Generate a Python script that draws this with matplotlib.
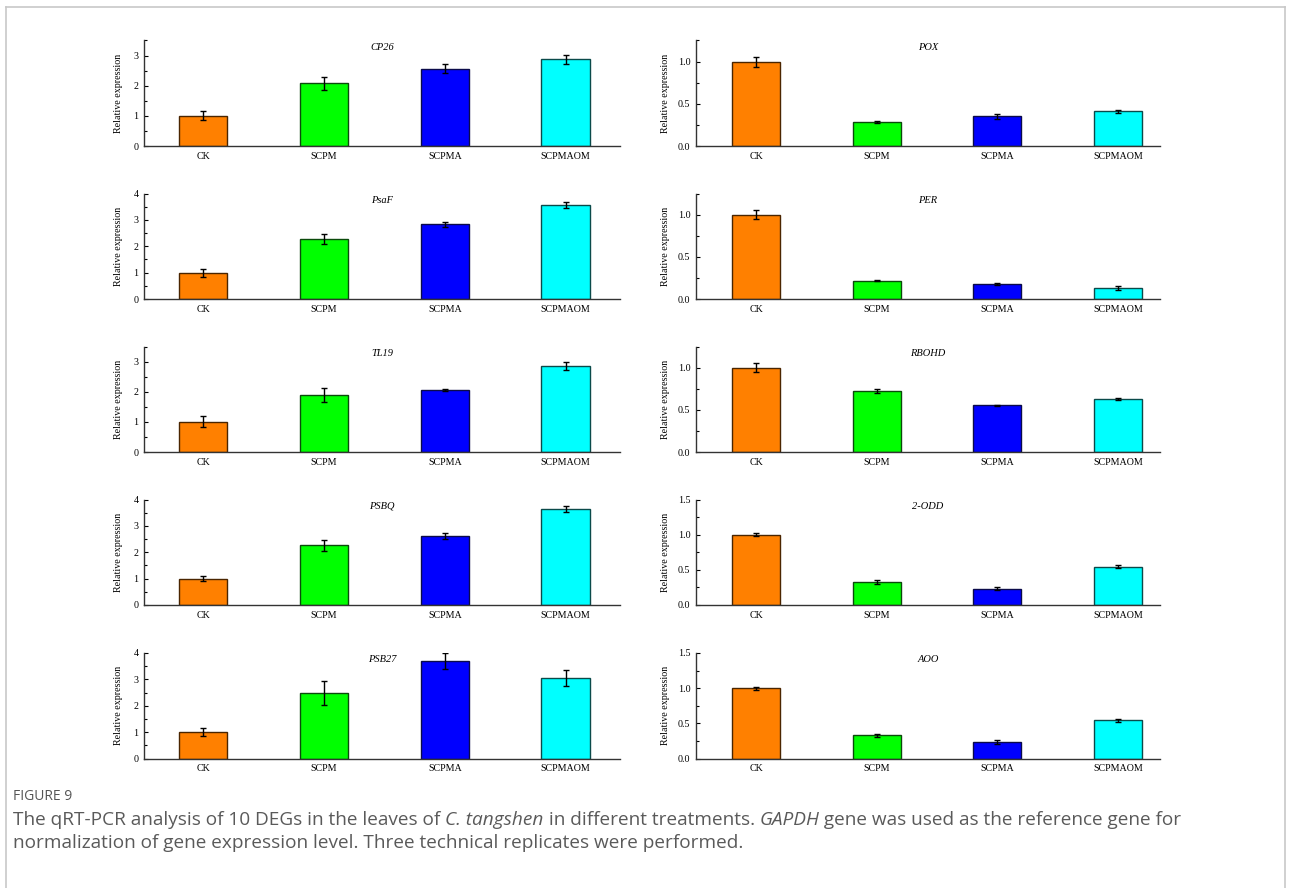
import matplotlib
matplotlib.use('Agg')
import matplotlib.pyplot as plt
from matplotlib.lines import Line2D
from matplotlib.ticker import MultipleLocator, FormatStrFormatter

# ── Data ──────────────────────────────────────────────────────────────────────
treatments = ['CK', 'SCPM', 'SCPMA', 'SCPMAOM']
colors     = ['#FF8000', '#00FF00', '#0000FF', '#00FFFF']
edges      = ['#4a2500', '#0b4a0b', '#0b0b4a', '#0b4a4a']

left_genes = ['CP26', 'PsaF', 'TL19', 'PSBQ', 'PSB27']
left_means = [[1.00, 2.08, 2.57, 2.87],
              [1.00, 2.29, 2.83, 3.57],
              [1.00, 1.89, 2.07, 2.85],
              [1.00, 2.27, 2.61, 3.63],
              [1.00, 2.48, 3.70, 3.05]]
left_errs  = [[0.15, 0.21, 0.15, 0.15],
              [0.15, 0.19, 0.10, 0.12],
              [0.18, 0.24, 0.03, 0.12],
              [0.09, 0.21, 0.12, 0.12],
              [0.16, 0.44, 0.31, 0.30]]
left_ymax  = [3.5, 4, 3.5, 4, 4]

right_genes = ['POX', 'PER', 'RBOHD', '2-ODD', 'AOO']
right_means = [[1.00, 0.285, 0.350, 0.410],
               [1.00, 0.218, 0.179, 0.131],
               [1.00, 0.722, 0.552, 0.627],
               [1.00, 0.330, 0.233, 0.543],
               [1.00, 0.330, 0.234, 0.545]]
right_errs  = [[0.06, 0.015, 0.025, 0.015],
               [0.05, 0.010, 0.010, 0.025],
               [0.05, 0.020, 0.005, 0.010],
               [0.025, 0.025, 0.025, 0.020],
               [0.02, 0.020, 0.025, 0.020]]
right_ymax  = [1.25, 1.25, 1.25, 1.5, 1.5]

caption_line1 = [('The qRT-PCR analysis of 10 DEGs in the leaves of ', 'normal'),
                 ('C. tangshen', 'italic'),
                 (' in different treatments. ', 'normal'),
                 ('GAPDH', 'italic'),
                 (' gene was used as the reference gene for', 'normal')]
caption_line2 = 'normalization of gene expression level. Three technical replicates were performed.'

# ── Layout (pixels) ───────────────────────────────────────────────────────────
W, H = 1292, 888
row_bottoms = [146, 299, 452, 605, 758.5]
AX_H = 105.5
cols = [dict(x0=144, w=476, xlim=(0.51, 4.45), labx=-0.044,
             genes=left_genes, means=left_means, errs=left_errs, ymax=left_ymax),
        dict(x0=696, w=464, xlim=(0.50, 4.35), labx=-0.056,
             genes=right_genes, means=right_means, errs=right_errs, ymax=right_ymax)]

plt.rcParams['font.family'] = 'Liberation Serif'
fig = plt.figure(figsize=(W / 100, H / 100), dpi=100)
xpos = list(range(1, len(treatments) + 1))

for col in cols:
    for r, gene in enumerate(col['genes']):
        ax = fig.add_axes([col['x0'] / W, 1 - row_bottoms[r] / H,
                           col['w'] / W, AX_H / H])
        ax.bar(xpos, col['means'][r], width=0.4, color=colors,
               edgecolor=edges, linewidth=1.0, zorder=2)
        ax.errorbar(xpos, col['means'][r], yerr=col['errs'][r], fmt='none',
                    ecolor='black', elinewidth=1.0, capsize=2.2, capthick=1.0, zorder=3)
        ymax = col['ymax'][r]
        ax.set_ylim(0, ymax)
        ax.set_xlim(*col['xlim'])
        if ymax <= 1.5:
            ax.yaxis.set_major_locator(MultipleLocator(0.5))
            ax.yaxis.set_minor_locator(MultipleLocator(0.25))
            ax.yaxis.set_major_formatter(FormatStrFormatter('%.1f'))
        else:
            ax.yaxis.set_major_locator(MultipleLocator(1))
            ax.yaxis.set_minor_locator(MultipleLocator(0.5))
        ax.set_xticks(xpos)
        ax.set_xticklabels(treatments)
        ax.tick_params(axis='x', length=0, pad=4, labelsize=7.2)
        ax.tick_params(axis='y', which='major', direction='in', length=3,
                       width=0.8, pad=4, labelsize=7.2)
        ax.tick_params(axis='y', which='minor', direction='in', length=2, width=0.8)
        for s in ('top', 'right'):
            ax.spines[s].set_visible(False)
        for s in ('left', 'bottom'):
            ax.spines[s].set_linewidth(1.0)
            ax.spines[s].set_color('#333333')
        ax.set_ylabel('Relative expression', fontsize=7.2)
        ax.yaxis.set_label_coords(col['labx'], 0.5)
        ax.text(0.5, 0.935, gene, transform=ax.transAxes, ha='center', va='center',
                fontsize=7.5, style='italic')

# ── Frame and caption ─────────────────────────────────────────────────────────
frame = dict(color='#c8c8c8', lw=1.2, transform=fig.transFigure)
fig.add_artist(Line2D([6 / W, 6 / W], [0, 1 - 7 / H], **frame))
fig.add_artist(Line2D([6 / W, 1285 / W], [1 - 7 / H, 1 - 7 / H], **frame))
fig.add_artist(Line2D([1285 / W, 1285 / W], [0, 1 - 7 / H], **frame))

CAP = dict(fontsize=13.7, color='#5a5a5a', family='Open Sans', va='center')
fig.text(13 / W, 1 - 796 / H, 'FIGURE 9', fontsize=10, color='#555555',
         family='Open Sans', va='center')

renderer = fig.canvas.get_renderer()
x = 13
for seg, style in caption_line1:
    t = fig.text(x / W, 1 - 820 / H, seg, style=style, **CAP)
    x += t.get_window_extent(renderer).width
fig.text(13 / W, 1 - 843 / H, caption_line2, **CAP)

fig.savefig('out.png', dpi=100)
